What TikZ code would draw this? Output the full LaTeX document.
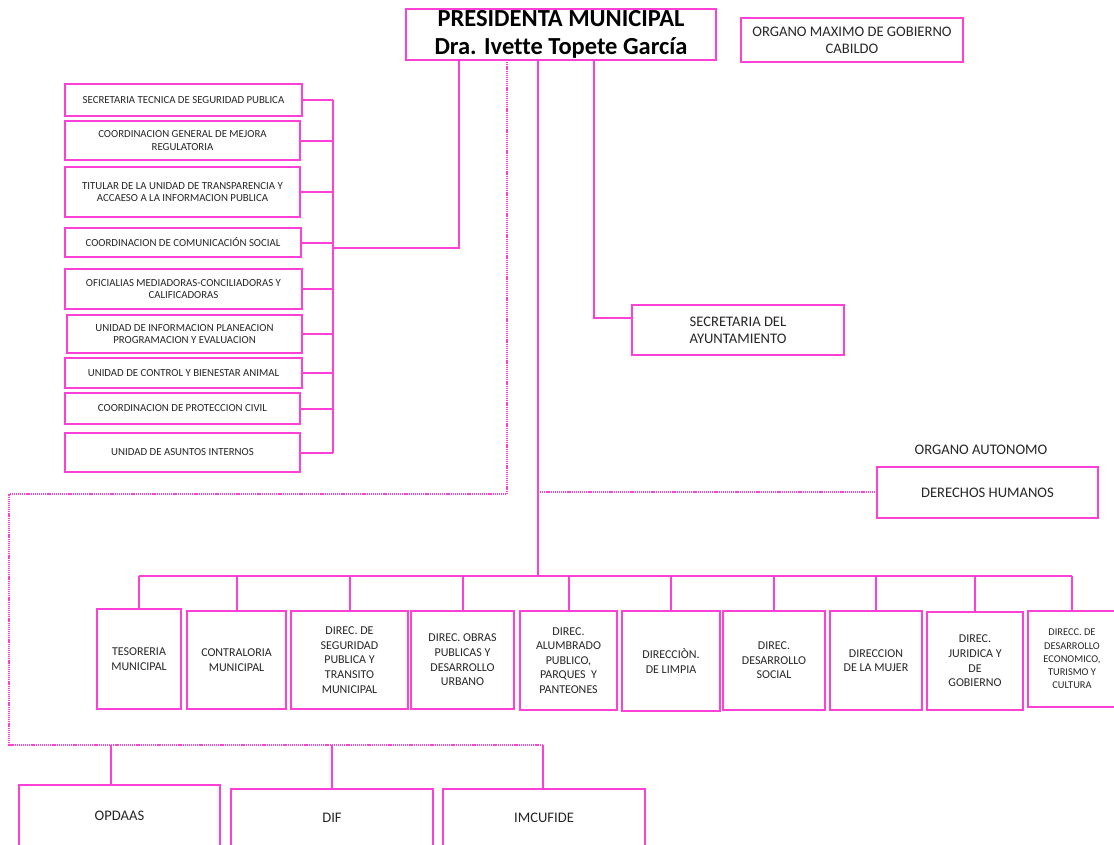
\documentclass[tikz,border=0pt]{standalone}
\usepackage{fontspec}
\setmainfont{Carlito}[Ligatures=NoCommon]
\definecolor{pk}{HTML}{FF40D6}
\begin{document}
\begin{tikzpicture}[x=1pt,y=-1pt,
  box/.style={draw=pk,line width=2pt,rectangle,inner sep=0pt,outer sep=0pt,align=center,text=black!85},
  conn/.style={draw=pk,line width=2pt},
  dotl/.style={draw=pk,line width=1.4pt,dash pattern=on 1.2pt off 0.9pt},
  sm/.style={font=\fontsize{10.8}{12.5}\selectfont},
  md/.style={font=\fontsize{12}{14.6}\selectfont},
  lg/.style={font=\fontsize{14.6}{17}\selectfont}]
\useasboundingbox (0,0) rectangle (1114,844);
\newcommand{\bx}[7][]{\node[box,#1,minimum width={(#5-#3)*1pt},minimum height={(#6-#4)*1pt}] (#2) at ({(#3+#5)/2},{(#4+#6)/2}) {#7};}
% top
\bx[font=\bfseries\fontsize{24.5}{28}\selectfont,text=black]{pres}{406}{9}{716}{60}{\raisebox{-2pt}{PRESIDENTA MUNICIPAL}\\\raisebox{-2pt}{Dra. Ivette Topete García}}
\bx[lg]{cab}{741}{18}{963}{62}{ORGANO MAXIMO DE GOBIERNO\\CABILDO}
% left column
\bx[sm]{s1}{65}{84}{302}{116}{SECRETARIA TECNICA DE SEGURIDAD PUBLICA}
\bx[sm]{s2}{65}{121}{300}{160}{COORDINACION GENERAL DE MEJORA\\REGULATORIA}
\bx[sm]{s3}{65}{167}{300}{217}{TITULAR DE LA UNIDAD DE TRANSPARENCIA Y\\ACCAESO A LA INFORMACION PUBLICA}
\bx[sm]{s4}{65}{228}{301}{257}{COORDINACION DE COMUNICACIÓN SOCIAL}
\bx[sm]{s5}{65}{269}{302}{309}{OFICIALIAS MEDIADORAS-CONCILIADORAS Y\\CALIFICADORAS}
\bx[sm]{s6}{67}{315}{302}{353}{UNIDAD DE INFORMACION PLANEACION\\PROGRAMACION Y EVALUACION}
\bx[sm]{s7}{65}{358}{302}{388}{UNIDAD DE CONTROL Y BIENESTAR ANIMAL}
\bx[sm]{s8}{65}{393}{300}{424}{COORDINACION DE PROTECCION CIVIL}
\bx[sm]{s9}{65}{433}{300}{472}{UNIDAD DE ASUNTOS INTERNOS}
% right side
\bx[lg]{sec}{632}{305}{844}{355}{SECRETARIA DEL\\AYUNTAMIENTO}
\node[lg,text=black!85] (oa) at (981,450) {ORGANO AUTONOMO};
\bx[lg]{dh}{877}{467}{1098}{518}{DERECHOS HUMANOS}
% bottom row
\bx[md]{b1}{97}{609}{181}{709}{TESORERIA\\MUNICIPAL}
\bx[md]{b2}{187}{611}{286}{709}{CONTRALORIA\\MUNICIPAL}
\bx[md]{b3}{291}{611}{408}{709}{DIREC. DE\\SEGURIDAD\\PUBLICA Y\\TRANSITO\\MUNICIPAL}
\bx[md]{b4}{411}{611}{514}{709}{DIREC. OBRAS\\PUBLICAS Y\\DESARROLLO\\URBANO}
\bx[md]{b5}{520}{611}{617}{710}{DIREC.\\ALUMBRADO\\PUBLICO,\\PARQUES~ Y\\PANTEONES}
\bx[md]{b6}{622}{611}{720}{711}{DIRECCIÒN.\\DE LIMPIA}
\bx[md]{b7}{723}{611}{825}{710}{DIREC.\\DESARROLLO\\SOCIAL}
\bx[md]{b8}{830}{611}{922}{710}{DIRECCION\\DE LA MUJER}
\bx[md]{b9}{927}{612}{1023}{710}{DIREC.\\JURIDICA Y\\DE\\GOBIERNO}
\bx[font=\fontsize{10.4}{13.3}\selectfont]{b10}{1028}{611}{1116}{707}{DIRECC. DE\\DESARROLLO\\ECONOMICO,\\TURISMO Y\\CULTURA}
% lowest
\bx[lg]{o1}{19}{785}{220}{846}{OPDAAS}
\bx[lg]{o2}{231}{789}{433}{846}{DIF}
\bx[lg]{o3}{443}{789}{645}{846}{IMCUFIDE}
% coordinates
\coordinate (jl) at (333,248);
\coordinate (jp) at (459,248);
\coordinate (js) at (594,318);
\coordinate (tr) at (538,576);
\coordinate (jd) at (540,492);
\coordinate (d1) at (507,494);
\coordinate (d2) at (9,494);
\coordinate (d3) at (9,745);
\coordinate (d4) at (543,745);
\coordinate (dop) at (111,745);
% left column connectors
\foreach \i in {s1,s2,s3,s4,s5,s6,s7,s8,s9} {\draw[conn] (\i.east) -- (\i.east -| jl);}
\draw[conn] (s1.east -| jl) -- (s9.east -| jl);
\draw[conn] (jl) -- (jp) -- (jp |- pres.south);
% secretaria
\draw[conn] (js |- pres.south) -- (js) -- (js -| sec.west);
% trunk
\draw[conn] (tr |- pres.south) -- (tr);
\draw[conn] (b1.north |- tr) -- (b10.north |- tr);
\foreach \i in {b1,b2,b3,b4,b5,b6,b7,b8,b9,b10} {\draw[conn] (\i.north |- tr) -- (\i.north);}
% dotted
\draw[dotl] (jd) -- (jd -| dh.west);
\draw[dotl] (d1 |- pres.south) -- (d1) -- (d2) -- (d3) -- (d4);
\draw[conn] (dop) -- (dop |- o1.north);
\draw[conn] (o2.north |- d3) -- (o2.north);
\draw[conn] (d4) -- (d4 |- o3.north);
\end{tikzpicture}
\end{document}
